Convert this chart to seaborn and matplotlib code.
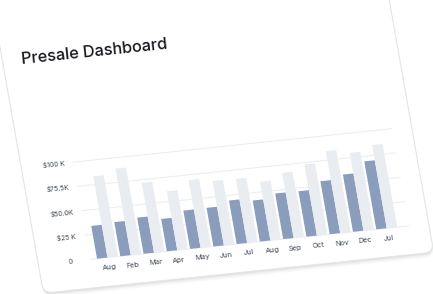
import numpy as np
import pandas as pd
import matplotlib
matplotlib.use("Agg")
import matplotlib.pyplot as plt
import seaborn as sns
from matplotlib.transforms import Affine2D, offset_copy
from matplotlib.patches import FancyBboxPatch

# ---------------- data ----------------
months = ["Aug", "Feb", "Mar", "Apr", "May", "Jun", "Jul",
          "Aug", "Sep", "Oct", "Nov", "Dec", "Jul"]
presale = [33.7, 35.1, 37.2, 33.3, 39.4, 39.7, 44.7, 42.2, 46.9, 46.7, 54.5, 58.9, 69.9]
target = [83.5, 89.0, 71.9, 60.7, 69.5, 66.1, 66.0, 60.4, 67.1, 73.1, 84.4, 80.1, 85.6]
ytick_vals = [0, 25, 50, 75, 100]
ytick_labels = ["0", "$25 K", "$50.0K", "$75.5K", "$100 K"]
title = "Presale Dashboard"

# ---------------- style ----------------
sns.set_theme(style="white")
plt.rcParams["font.family"] = ["Inter", "DejaVu Sans"]

DARK = "#8a9dbc"
LIGHT = "#e9ecf0"
GRID = "#eceef1"
TICK = "#3e4755"

W, H = 433, 294
fig = plt.figure(figsize=(W / 100, H / 100), dpi=100)
fig.patch.set_facecolor("white")

# card-plane -> tilted view (affine, pixel coords)
T = Affine2D(np.array([[0.9945, -0.1736, 51.04],
                       [0.1045, 0.9848, -45.53],
                       [0.0, 0.0, 1.0]]))
ROT = 6

# card with soft shadow (top of card lies outside the view)
card_x, card_y, card_w, card_h = 0.5, 47, 392.5, 300
for dy, a in [(5, 0.015), (4, 0.02), (3, 0.025), (2, 0.03), (1, 0.035)]:
    sh = FancyBboxPatch((card_x, card_y - dy), card_w, card_h,
                        boxstyle="round,pad=0,rounding_size=9",
                        transform=T, fc="black", ec="none", alpha=a, zorder=-12)
    fig.add_artist(sh)
card = FancyBboxPatch((card_x, card_y), card_w, card_h,
                      boxstyle="round,pad=0,rounding_size=9",
                      transform=T, fc="white", ec="#e4e5e7", lw=0.8, zorder=-10)
fig.add_artist(card)

# chart axes in card plane
x0, x1 = 52.45, 373.0
y0, y1 = 294 - 218.2, 294 - 119.5
ax = fig.add_axes([x0 / W, y0 / H, (x1 - x0) / W, (y1 - y0) / H])
ax.set_facecolor("none")

df = pd.DataFrame({
    "slot": list(range(len(months))) * 2,
    "value": presale + target,
    "series": ["Presale"] * len(months) + ["Target"] * len(months),
})
sns.barplot(data=df, x="slot", y="value", hue="series",
            palette=[DARK, LIGHT], width=0.9, gap=0, saturation=1,
            errorbar=None, legend=False, ax=ax, zorder=2)
ax.set_xlim(-0.75, 12.95)
ax.set_ylim(0, 100)
ax.axis("off")

for v in ytick_vals:
    ax.axhline(v, color=GRID, lw=0.8, zorder=0)

for p in ax.patches:
    p.set_transform(ax.transData + T)
    p.set_clip_on(False)
    p.set_linewidth(0)
for ln in ax.lines:
    ln.set_transform(ln.get_transform() + T)
    ln.set_clip_on(False)

# y tick labels
for v, lab in zip(ytick_vals, ytick_labels):
    ax.text((33 - x0) / (x1 - x0), v, lab, transform=ax.get_yaxis_transform() + T,
            ha="center", va="center", fontsize=4.9, color=TICK,
            rotation=ROT, rotation_mode="anchor", clip_on=False)

# month labels
lab_tr = offset_copy(ax.transData, fig=fig, y=-10, units="dots") + T
for i, m in enumerate(months):
    ax.text(i, 0, m, transform=lab_tr, ha="center", va="center",
            fontsize=5.3, color=TICK, rotation=ROT, rotation_mode="anchor",
            clip_on=False)

# title
fig.text(19, 294 - 16, title, transform=T, ha="left", va="baseline",
         fontsize=11.7, color="#16181d", fontweight="medium",
         rotation=ROT, rotation_mode="anchor")

fig.savefig("out.png", dpi=100, facecolor="white")
